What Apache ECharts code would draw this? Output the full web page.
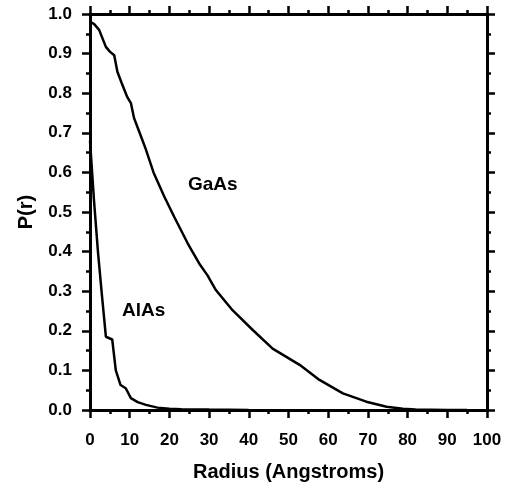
<!DOCTYPE html>
<html>
<head>
    <meta charset="utf-8">
    <title>P(r)</title>
    <script src="https://cdn.jsdelivr.net/npm/echarts@6/dist/echarts.min.js"></script>
</head>
<body style="margin:0">
    <div id="main" style="width:511px;height:489px;"></div>
    <script type="text/javascript">
        // radius (Angstroms) and P(r)
        var gaasR = [0, 1, 2.3, 4, 5, 6.1, 6.9, 8, 9.4, 10.3, 11.1, 12.5, 14, 16, 18.7, 21.2, 24.6, 27.5, 29.6, 31.7, 35.9, 41, 46, 52.8, 57.8, 63.7, 69.6, 74.7, 78.8, 82, 90, 95];
        var gaasP = [0.98, 0.975, 0.96, 0.917, 0.905, 0.896, 0.854, 0.825, 0.79, 0.775, 0.737, 0.70, 0.66, 0.60, 0.539, 0.488, 0.421, 0.37, 0.34, 0.303, 0.252, 0.202, 0.155, 0.114, 0.076, 0.042, 0.021, 0.008, 0.003, 0.001, 0, 0];
        var alasR = [0, 1, 2, 3, 4, 5.6, 6.5, 7.7, 9, 10.3, 12, 14.1, 17, 20, 23, 30, 40];
        var alasP = [0.68, 0.53, 0.40, 0.29, 0.185, 0.178, 0.10, 0.063, 0.055, 0.03, 0.02, 0.013, 0.006, 0.003, 0.002, 0.001, 0];
        var xTicks = [0, 10, 20, 30, 40, 50, 60, 70, 80, 90, 100];
        var yTicks = [0, 0.1, 0.2, 0.3, 0.4, 0.5, 0.6, 0.7, 0.8, 0.9, 1.0];

        var font = 'Liberation Sans, Arial, Helvetica, sans-serif';
        var myChart = echarts.init(document.getElementById('main'));

        function pairs(xs, ys) {
            return xs.map(function (x, i) { return [x, ys[i]]; });
        }

        var axisLine = {show: true, onZero: false, lineStyle: {color: '#000', width: 3}};
        var tick = {show: true, inside: false, length: 8, lineStyle: {color: '#000', width: 2.5}};
        var minor = {show: true, splitNumber: 2, length: 4, lineStyle: {color: '#000', width: 2.5}};

        function xAx(pos, labels) {
            return {
                type: 'value', position: pos,
                min: xTicks[0], max: xTicks[xTicks.length - 1], interval: 10,
                axisLine: axisLine, axisTick: tick, minorTick: minor,
                splitLine: {show: false}, minorSplitLine: {show: false},
                axisLabel: {show: labels, margin: 22, color: '#000', fontFamily: font, fontWeight: 'bold', fontSize: 17},
                name: labels ? 'Radius (Angstroms)' : '', nameLocation: 'middle', nameGap: 52,
                nameTextStyle: {color: '#000', fontFamily: font, fontWeight: 'bold', fontSize: 20}
            };
        }
        function yAx(pos, labels) {
            return {
                type: 'value', position: pos,
                min: yTicks[0], max: yTicks[yTicks.length - 1], interval: 0.1,
                axisLine: axisLine, axisTick: tick, minorTick: minor,
                splitLine: {show: false}, minorSplitLine: {show: false},
                axisLabel: {show: labels, margin: 18, color: '#000', fontFamily: font, fontWeight: 'bold', fontSize: 17,
                    formatter: function (v) { return v.toFixed(1); }},
                name: labels ? 'P(r)' : '', nameLocation: 'middle', nameGap: 54,
                nameTextStyle: {color: '#000', fontFamily: font, fontWeight: 'bold', fontSize: 20}
            };
        }

        var option = {
            animation: false,
            backgroundColor: '#fff',
            grid: {left: 90, top: 14, width: 397, height: 396},
            xAxis: [xAx('bottom', true), xAx('top', false)],
            yAxis: [yAx('left', true), yAx('right', false)],
            graphic: [
                {type: 'text', left: 188, top: 175, style: {text: 'GaAs', fill: '#000', font: 'bold 19px ' + font}},
                {type: 'text', left: 122, top: 301, style: {text: 'AlAs', fill: '#000', font: 'bold 19px ' + font}}
            ],
            series: [
                {type: 'line', name: 'GaAs', data: pairs(gaasR, gaasP), showSymbol: false, symbol: 'none',
                    lineStyle: {color: '#000', width: 2.5}, z: 5},
                {type: 'line', name: 'AlAs', data: pairs(alasR, alasP), showSymbol: false, symbol: 'none',
                    lineStyle: {color: '#000', width: 2.5}, z: 5}
            ]
        };

        myChart.setOption(option);
    </script>
</body>
</html>
